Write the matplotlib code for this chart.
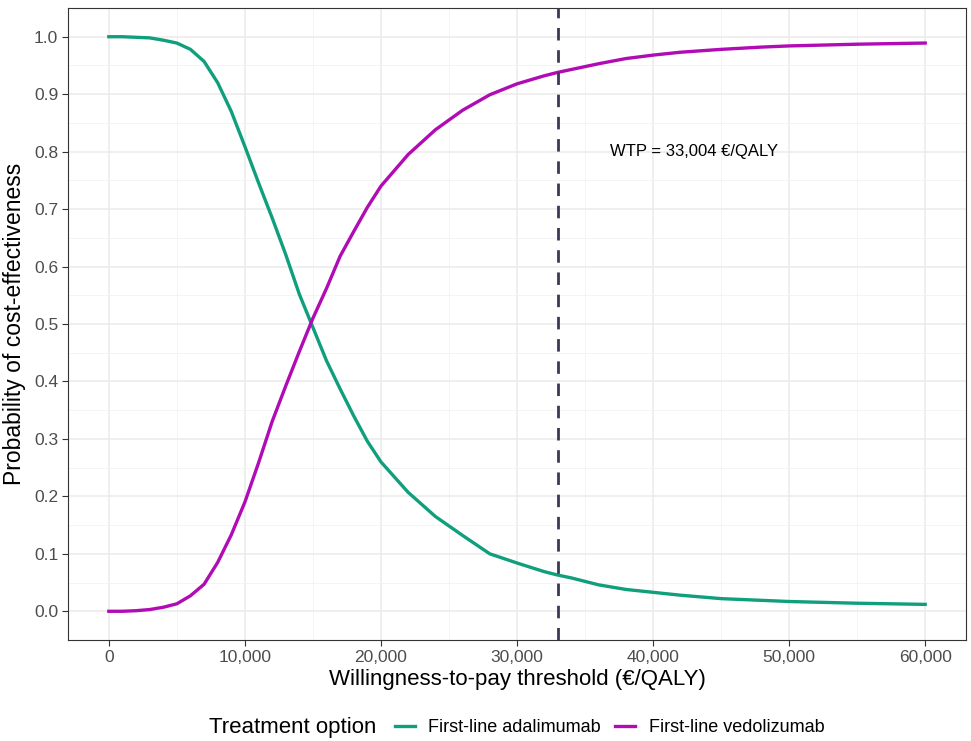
import matplotlib
matplotlib.use("Agg")
import matplotlib.pyplot as plt
from matplotlib.lines import Line2D
from matplotlib.ticker import FuncFormatter

plt.rcParams["font.family"] = ["Liberation Sans", "DejaVu Sans"]

# willingness-to-pay grid (EUR/QALY)
wtp = [0, 1000, 2000, 3000, 4000, 5000, 6000, 7000, 8000, 9000, 10000,
       11000, 12000, 13000, 14000, 15000, 16000, 17000, 18000, 19000, 20000,
       22000, 24000, 26000, 28000, 30000, 32000, 33000, 34000, 36000, 38000,
       40000, 42000, 45000, 48000, 50000, 55000, 60000]

p_adalimumab = [1.000, 1.000, 0.999, 0.998, 0.994, 0.989, 0.978, 0.957, 0.920,
                0.870, 0.809, 0.746, 0.685, 0.621, 0.552, 0.494, 0.436, 0.387,
                0.340, 0.296, 0.260, 0.207, 0.165, 0.132, 0.100, 0.084, 0.069,
                0.063, 0.058, 0.046, 0.038, 0.033, 0.028, 0.022, 0.019, 0.017,
                0.014, 0.012]

p_vedolizumab = [0.000, 0.000, 0.001, 0.003, 0.007, 0.013, 0.027, 0.047, 0.085,
                 0.133, 0.190, 0.258, 0.330, 0.392, 0.452, 0.510, 0.562, 0.618,
                 0.661, 0.703, 0.740, 0.795, 0.838, 0.872, 0.899, 0.918, 0.932,
                 0.938, 0.943, 0.953, 0.962, 0.968, 0.973, 0.978, 0.982, 0.984,
                 0.987, 0.989]

wtp_threshold = 33004
labels = ["First-line adalimumab", "First-line vedolizumab"]
colors = ["#0f9f7d", "#b00bb4"]

fig = plt.figure(figsize=(9.71, 7.41), dpi=100)
ax = fig.add_axes([68 / 971, 1 - 640 / 741, 898 / 971, 632 / 741])

ax.plot(wtp, p_adalimumab, color=colors[0], lw=2.4, zorder=3)
ax.plot(wtp, p_vedolizumab, color=colors[1], lw=2.4, zorder=3)
ax.axvline(wtp_threshold, color="#3a3a52", lw=2, ls=(0, (4.5, 3.5)), zorder=4)
ax.text(43000, 0.8, "WTP = 33,004 €/QALY", ha="center", va="center", fontsize=12)

ax.set_xlim(-3000, 63000)
ax.set_ylim(-0.05, 1.05)
ax.set_xticks(range(0, 60001, 10000))
ax.set_xticks(range(5000, 60001, 10000), minor=True)
ax.set_yticks([i / 10 for i in range(11)])
ax.set_yticks([i / 10 + 0.05 for i in range(10)], minor=True)
ax.xaxis.set_major_formatter(FuncFormatter(lambda v, p: f"{int(v):,}"))
ax.yaxis.set_major_formatter(FuncFormatter(lambda v, p: f"{v:.1f}"))

ax.grid(which="major", color="#ebebeb", lw=1.1)
ax.grid(which="minor", color="#f2f2f2", lw=0.6)
ax.set_axisbelow(True)
for s in ax.spines.values():
    s.set_color("#333333")
    s.set_linewidth(0.8)
ax.tick_params(which="major", length=4, color="#333333", labelsize=12.5,
               labelcolor="#4d4d4d", pad=3)
ax.tick_params(which="minor", length=0)

ax.set_xlabel("Willingness-to-pay threshold (€/QALY)", fontsize=16, labelpad=3)
ax.set_ylabel("Probability of cost-effectiveness", fontsize=16.5, labelpad=6)

# legend at the bottom with the title inline
ly = 1 - 728 / 741
fig.text(209 / 971, ly, "Treatment option", fontsize=16, va="center", ha="left")
handles = [Line2D([], [], color=c, lw=2.4) for c in colors]
fig.legend(handles, labels, loc="center left", bbox_to_anchor=(395 / 971, ly),
           ncol=2, frameon=False, fontsize=13, handlelength=1.1,
           handletextpad=0.75, columnspacing=0.8, borderpad=0, borderaxespad=0)

fig.savefig("out.png", dpi=100)
